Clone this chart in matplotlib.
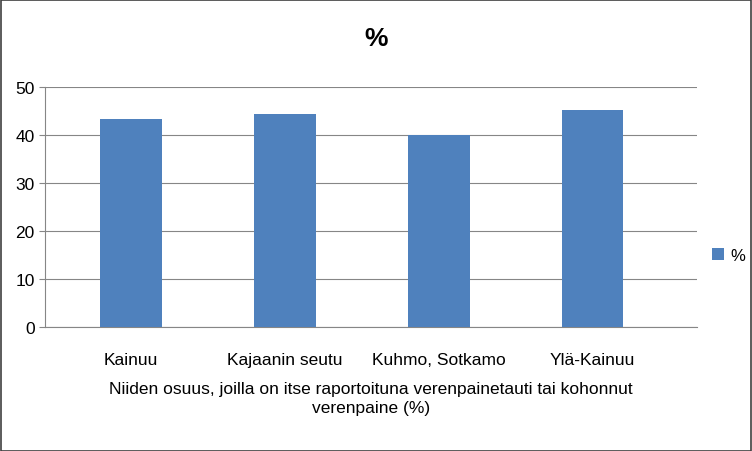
import matplotlib
matplotlib.use('Agg')
import matplotlib.pyplot as plt
import numpy as np

plt.rcParams['font.family'] = 'Liberation Sans'

categories = ["Kainuu", "Kajaanin seutu", "Kuhmo, Sotkamo", "Ylä-Kainuu"]
values = [43.3, 44.4, 40.0, 45.2]
series_name = "%"
xlabel = "Niiden osuus, joilla on itse raportoituna verenpainetauti tai kohonnut\nverenpaine (%)"

fig = plt.figure(figsize=(7.52, 4.52), dpi=100)
ax = fig.add_axes([0.06, 0.274, 0.867, 0.531])

x = np.arange(len(categories))
ax.bar(x, values, 0.40, color='#4F81BD', label=series_name, zorder=3)
ax.set_xlim(-0.56, len(categories) - 0.32)
ax.set_ylim(0, 50)
ax.set_yticks(range(0, 51, 10))
ax.yaxis.grid(True, color='#868686', linewidth=0.8, zorder=0)
ax.set_xticks(x)
ax.set_xticklabels(categories, fontsize=12.5)
ax.tick_params(axis='y', labelsize=12.5, length=4, color='#868686')
ax.tick_params(axis='x', length=0, pad=18)
for s in ['top', 'right']:
    ax.spines[s].set_visible(False)
for s in ['left', 'bottom']:
    ax.spines[s].set_color('#868686')
ax.set_xlabel(xlabel, fontsize=12.5, labelpad=10, linespacing=1.3)
fig.suptitle("%", fontsize=19, fontweight='bold', y=0.94)

ax.legend(loc='center left', bbox_to_anchor=(1.0, 0.3), frameon=False,
          fontsize=12, handlelength=0.7, handleheight=0.7, handletextpad=0.4)

fig.patches.append(plt.Rectangle((0.001, 0.001), 0.998, 0.997, transform=fig.transFigure,
                                 fill=False, edgecolor='#404040', linewidth=1.2))
fig.savefig('out.png', dpi=100)
